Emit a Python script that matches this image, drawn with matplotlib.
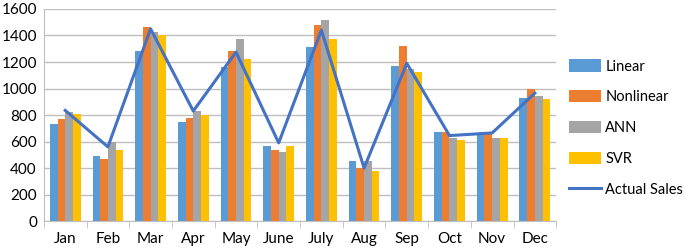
import numpy as np
import matplotlib.pyplot as plt

plt.rcParams['font.family'] = ['Lato', 'DejaVu Sans']

# Monthly sales forecasts by model
months = ['Jan', 'Feb', 'Mar', 'Apr', 'May', 'June', 'July', 'Aug', 'Sep', 'Oct', 'Nov', 'Dec']
linear = [730, 490, 1285, 745, 1160, 565, 1310, 450, 1170, 670, 660, 925]
nonlinear = [770, 465, 1465, 775, 1285, 540, 1480, 400, 1320, 675, 665, 995]
ann = [825, 600, 1430, 830, 1375, 520, 1515, 450, 1150, 630, 630, 940]
svr = [810, 540, 1400, 800, 1225, 570, 1375, 380, 1125, 610, 630, 920]
actual = [835, 560, 1450, 830, 1275, 590, 1440, 400, 1190, 645, 665, 965]

series = [('Linear', linear, '#5B9BD5'),
          ('Nonlinear', nonlinear, '#ED7D31'),
          ('ANN', ann, '#A5A5A5'),
          ('SVR', svr, '#FFC000')]

fig = plt.figure(figsize=(6.85, 2.49), dpi=100)
ax = fig.add_axes([0.064, 0.112, 0.748, 0.852])

x = np.arange(len(months))
w = 0.18
handles = []
for i, (name, vals, color) in enumerate(series):
    b = ax.bar(x + (i - 1.5) * w, vals, width=w, color=color, label=name, zorder=3)
    handles.append(b)

line, = ax.plot(x, actual, color='#4472C4', linewidth=2.2, label='Actual Sales', zorder=4)
handles.append(line)

ax.set_ylim(0, 1600)
ax.set_yticks(range(0, 1601, 200))
ax.set_xlim(-0.5, len(months) - 0.5)
ax.set_xticks(x)
ax.set_xticklabels(months)
ax.set_xticks(np.arange(-0.5, len(months), 1), minor=True)
ax.tick_params(axis='x', which='major', length=0, pad=8, labelsize=11)
ax.tick_params(axis='x', which='minor', length=5, color='#BFBFBF', direction='out')
ax.tick_params(axis='y', length=0, labelsize=11, pad=5)

ax.grid(axis='y', color='#BFBFBF', linewidth=1, zorder=0)
for s in ['top', 'right']:
    ax.spines[s].set_visible(False)
ax.spines['left'].set_color('#BFBFBF')
ax.spines['bottom'].set_color('#BFBFBF')

fig.legend(handles=handles, labels=[h.get_label() for h in handles],
           loc='center left', bbox_to_anchor=(0.811, 0.485), frameon=False,
           fontsize=10.5, labelspacing=1.15, handlelength=2.25, handleheight=0.9,
           handletextpad=0.27)

plt.savefig('out.png', dpi=100)
